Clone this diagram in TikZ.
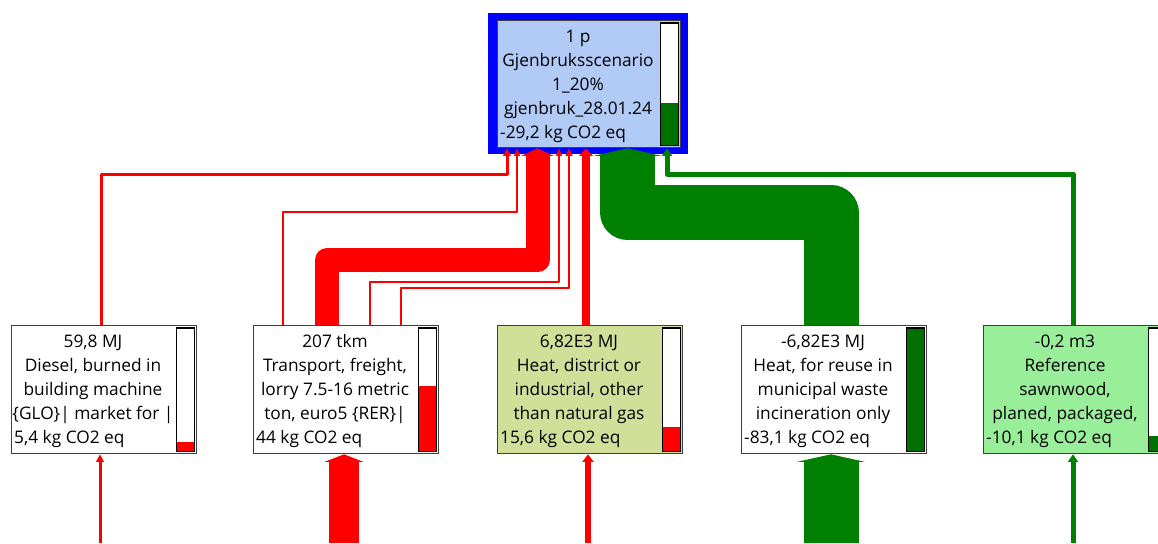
\documentclass[tikz,border=0pt]{standalone}
\usepackage{fontspec}
\setmainfont{Open Sans}
\usetikzlibrary{arrows.meta,calc}
\definecolor{fgreen}{RGB}{0,128,0}
\definecolor{barg}{RGB}{0,112,0}
\definecolor{topblue}{RGB}{178,202,246}
\definecolor{heatfill}{RGB}{210,223,152}
\definecolor{reffill}{RGB}{153,238,153}
\definecolor{boxline}{RGB}{64,64,64}
\tikzset{
 proc/.style={draw=boxline, line width=1.3pt, minimum width=185pt, minimum height=128pt, inner sep=0pt, anchor=north west, fill=white},
 txt/.style={anchor=base, inner sep=0pt, font=\fontsize{17.3}{24}\selectfont},
 txtl/.style={txt, anchor=base west},
 flow/.style={line join=round, -{Triangle[length=7.5pt, width=4pt 1.15]}},
 redflow/.style={flow, draw=red},
 greenflow/.style={flow, draw=fgreen},
 barframe/.style={draw=black, line width=1.2pt},
}
\newcommand\proctext[7]{%
 \node[txt] (#1-a) at ($(#1.north west)+(#2,22.5)$) {#3};
 \node[txt] (#1-b) at ($(#1.north west)+(#2,46.5)$) {#4};
 \node[txt] (#1-c) at ($(#1.north west)+(#2,70.5)$) {#5};
 \node[txt] (#1-d) at ($(#1.north west)+(#2,94.5)$) {#6};
 \node[txtl] (#1-e) at ($(#1.north west)+(3,118.5)$) {#7};
}
\newcommand\levelbar[3]{%
 \fill[white] ($(#1.north east)+(-21,3)$) rectangle ($(#1.south east)+(-3,-3)$);
 \fill[#3] ($(#1.south east)+(-21,-3)$) rectangle ($(#1.south east)+(-3,{-3-#2})$);
 \draw[barframe] ($(#1.north east)+(-21,3)$) rectangle ($(#1.south east)+(-3,-3)$);
}
\begin{document}
\begin{tikzpicture}[x=1pt,y=-1pt]
\useasboundingbox (0,0) rectangle (1158,543);
\clip (0,0) rectangle (1158,543);
% top process with blue selection frame
\fill[blue] (488,13) rectangle (688,154);
\node[proc, fill=topblue, minimum width=183pt, minimum height=127pt] (top) at (497,20) {};
\node[proc] (n1) at (11,325) {};
\node[proc] (n2) at (253,325) {};
\node[proc, fill=heatfill] (n3) at (497,325) {};
\node[proc] (n4) at (741,325) {};
\node[proc, fill=reffill] (n5) at (983,325) {};
\levelbar{top}{42}{barg}
\levelbar{n1}{9}{red}
\levelbar{n2}{65}{red}
\levelbar{n3}{24}{red}
\levelbar{n4}{122}{barg}
\levelbar{n5}{15}{barg}
\proctext{top}{81}{1 p}{Gjenbruksscenario}{1\_20\%}{gjenbruk\_28.01.24}{-29,2 kg CO2 eq}
\proctext{n1}{82}{59,8 MJ}{Diesel, burned in}{building machine}{\{GLO\}\textbar{} market for \textbar}{5,4 kg CO2 eq}
\proctext{n2}{82}{207 tkm}{Transport, freight,}{lorry 7.5-16 metric}{ton, euro5 \{RER\}\textbar}{44 kg CO2 eq}
\proctext{n3}{82}{6,82E3 MJ}{Heat, district or}{industrial, other}{than natural gas}{15,6 kg CO2 eq}
\proctext{n4}{82}{-6,82E3 MJ}{Heat, for reuse in}{municipal waste}{incineration only}{-83,1 kg CO2 eq}
\proctext{n5}{82}{-0,2 m3}{Reference}{sawnwood,}{planed, packaged,}{-10,1 kg CO2 eq}
% connectors into the top process
\draw[redflow, line width=3pt] ($(n1.north west)+(90,0)$) -- ++(0,-151) -| ($(top.south west)+(10,0)$);
\draw[redflow, line width=1.5pt] ($(n2.north west)+(30,0)$) -- ++(0,-113) -| ($(top.south west)+(20,0)$);
\draw[redflow, line width=24pt] ($(n2.north west)+(74,0)$) -- ++(0,-65) -| ($(top.south west)+(40.5,0)$);
\draw[redflow, line width=1.5pt] ($(n2.north west)+(117,0)$) -- ++(0,-43) -| ($(top.south west)+(62,0)$);
\draw[redflow, line width=2.5pt] ($(n2.north west)+(148,0)$) -- ++(0,-37) -| ($(top.south west)+(72,0)$);
\draw[redflow, line width=8pt] ($(n3.north west)+(89,0)$) -- ($(top.south west)+(89,0)$);
\draw[greenflow, line width=55pt] ($(n4.north west)+(90,0)$) -- ++(0,-112.5) -| ($(top.south west)+(130.5,0)$);
\draw[greenflow, line width=5pt] ($(n5.north west)+(90,0)$) -- ++(0,-151) -| ($(top.south west)+(170,0)$);
% connectors from below into the lower processes
\coordinate (b1) at (100,543);
\coordinate (b2) at (344,543);
\coordinate (b3) at (588,543);
\coordinate (b4) at (831,543);
\coordinate (b5) at (1073,543);
\draw[redflow, line width=3pt] (b1) -- (b1 |- n1.south);
\draw[redflow, line width=30pt] (b2) -- (b2 |- n2.south);
\draw[redflow, line width=6pt] (b3) -- (b3 |- n3.south);
\draw[greenflow, line width=55pt] (b4) -- (b4 |- n4.south);
\draw[greenflow, line width=5pt] (b5) -- (b5 |- n5.south);
\end{tikzpicture}
\end{document}
